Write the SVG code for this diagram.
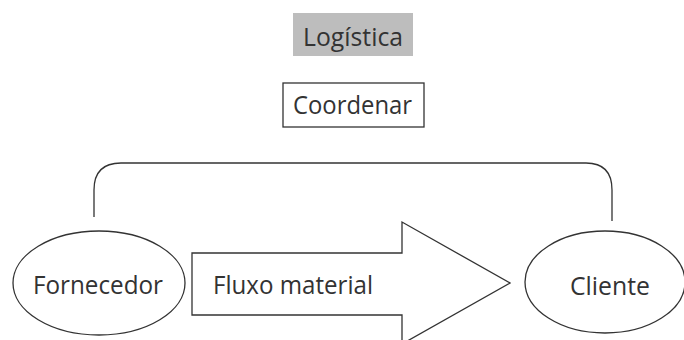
<svg xmlns="http://www.w3.org/2000/svg" width="684" height="340" viewBox="0 0 684 340">
<style>
.t{font-family:"Open Sans","Liberation Sans",sans-serif;font-size:25.5px;fill:#333;}
.s{fill:#fff;stroke:#333;stroke-width:1.3;}
.c{fill:none;stroke:#333;stroke-width:1.3;}
</style>
<rect width="684" height="340" fill="#fff"/>
<g id="logistica">
<rect x="293" y="13" width="120" height="43" fill="#bdbdbd"/>
<text class="t" x="303" y="46" textLength="100" lengthAdjust="spacingAndGlyphs">Logística</text>
</g>
<g id="coordenar">
<rect class="s" x="283" y="83" width="141" height="44"/>
<text class="t" x="293" y="114" textLength="119" lengthAdjust="spacingAndGlyphs">Coordenar</text>
</g>
<g id="connectors">
<path class="c" d="M94,217 V190 Q94,163 121,163 H586 Q612,163 612,190 V221"/>
</g>
<g id="fluxo">
<polygon class="s" points="192,253 402,253 402,222 510,283 402,344 402,315 192,315"/>
<text class="t" x="213" y="294" textLength="160" lengthAdjust="spacingAndGlyphs">Fluxo material</text>
</g>
<g id="fornecedor">
<ellipse class="s" cx="99" cy="283" rx="86" ry="52"/>
<text class="t" x="33" y="294" textLength="130" lengthAdjust="spacingAndGlyphs">Fornecedor</text>
</g>
<g id="cliente">
<ellipse class="s" cx="605" cy="282" rx="80" ry="51"/>
<text class="t" x="570" y="295" textLength="80" lengthAdjust="spacingAndGlyphs">Cliente</text>
</g>
</svg>
